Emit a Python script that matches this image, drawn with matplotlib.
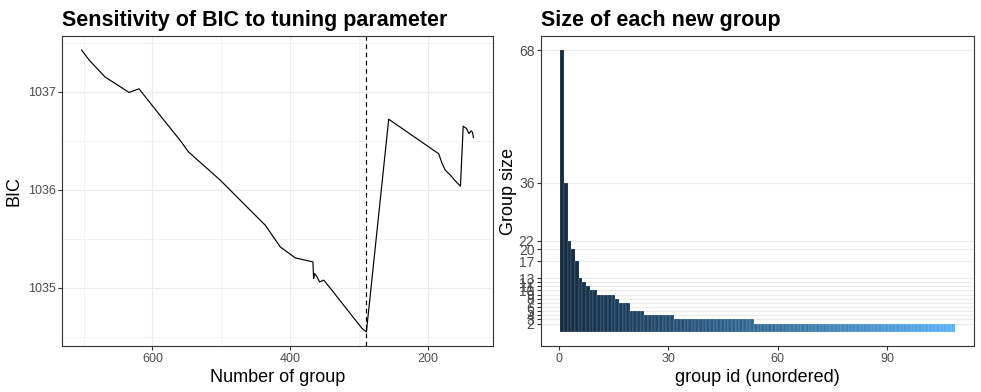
import numpy as np
import matplotlib
matplotlib.use("Agg")
import matplotlib.pyplot as plt

plt.rcParams['font.family'] = ['Liberation Sans', 'DejaVu Sans']

# ---- data: left panel (BIC vs number of groups) ----
n_groups = [702.8, 691.7, 668.9, 634.0, 619.5, 584.2, 559.9, 547.8, 501.7, 458.1,
            436.3, 414.5, 392.7, 367.1, 366.1, 364.7, 361.2, 357.4, 351.6, 349.1,
            295.8, 289.5, 257.1, 184.5, 179.7, 174.9, 167.6, 160.2, 153.0, 149.0,
            144.2, 140.8, 137.4, 135.5, 134.2]
bic = [1037.426, 1037.323, 1037.153, 1036.994, 1037.031, 1036.718, 1036.507, 1036.388,
       1036.100, 1035.793, 1035.640, 1035.418, 1035.306, 1035.265, 1035.096, 1035.147,
       1035.112, 1035.061, 1035.079, 1035.061, 1034.586, 1034.551, 1036.721, 1036.368,
       1036.270, 1036.200, 1036.150, 1036.089, 1036.038, 1036.650, 1036.626, 1036.575,
       1036.602, 1036.586, 1036.535]
best_n = 289.5
left_xticks = [600, 400, 200]
left_xminor = [700, 500, 300]
left_yticks = [1035, 1036, 1037]
left_yminor = [1034.5, 1035.5, 1036.5, 1037.5]

# ---- data: right panel (size of each new group) ----
group_sizes = ([68, 36, 22, 20, 17, 13, 12, 11, 10, 10, 9, 9, 9, 9, 9, 8, 7, 7, 7,
                5, 5, 5, 5] + [4] * 8 + [3] * 22 + [2] * 55)
group_ids = list(range(1, len(group_sizes) + 1))
right_yticks = [2, 3, 4, 5, 6, 7, 8, 9, 10, 11, 12, 13, 17, 20, 22, 36, 68]
right_xticks = [0, 30, 60, 90]

# ---- colour ramp in CIELAB (like ggplot's default gradient) ----
def hex2rgb(h):
    h = h.lstrip('#')
    return np.array([int(h[i:i + 2], 16) / 255 for i in (0, 2, 4)])

def srgb2lin(c):
    return np.where(c <= 0.04045, c / 12.92, ((c + 0.055) / 1.055) ** 2.4)

def lin2srgb(c):
    return np.where(c <= 0.0031308, 12.92 * c, 1.055 * np.clip(c, 0, None) ** (1 / 2.4) - 0.055)

M = np.array([[0.4124, 0.3576, 0.1805], [0.2126, 0.7152, 0.0722], [0.0193, 0.1192, 0.9505]])
Minv = np.linalg.inv(M)
WP = np.array([0.95047, 1.0, 1.08883])

def f(t):
    d = 6 / 29
    return np.where(t > d ** 3, np.cbrt(t), t / (3 * d * d) + 4 / 29)

def finv(t):
    d = 6 / 29
    return np.where(t > d, t ** 3, 3 * d * d * (t - 4 / 29))

def rgb2lab(c):
    xyz = M @ srgb2lin(c) / WP
    fx, fy, fz = f(xyz)
    return np.array([116 * fy - 16, 500 * (fx - fy), 200 * (fy - fz)])

def lab2rgb(lab):
    L, a, b = lab
    fy = (L + 16) / 116
    xyz = np.array([finv(fy + a / 500), finv(fy), finv(fy - b / 200)]) * WP
    return np.clip(lin2srgb(Minv @ xyz), 0, 1)

lab_lo = rgb2lab(hex2rgb('#132B43'))
lab_hi = rgb2lab(hex2rgb('#56B1F7'))
gmin, gmax = min(group_ids), max(group_ids)
bar_colors = [lab2rgb(lab_lo + (g - gmin) / (gmax - gmin) * (lab_hi - lab_lo)) for g in group_ids]

# ---- figure ----
W, H = 981, 392
fig = plt.figure(figsize=(W / 100, H / 100), dpi=100)

def px_axes(x0, x1, y0, y1):
    return fig.add_axes([x0 / W, 1 - y1 / H, (x1 - x0) / W, (y1 - y0) / H])

axL = px_axes(62, 493, 36, 346)
axR = px_axes(541, 974, 36, 346)

grid_major = '#EBEBEB'
tick_col = '#4D4D4D'
border = '#333333'

def style(ax):
    for s in ax.spines.values():
        s.set_color(border)
        s.set_linewidth(0.8)
    ax.tick_params(axis='both', which='major', direction='out', length=2.7, width=0.8,
                   color=border, labelcolor=tick_col, labelsize=9, pad=2)
    ax.tick_params(axis='both', which='minor', length=0)
    ax.set_axisbelow(True)

# left panel
axL.plot(n_groups, bic, color='black', lw=0.85)
axL.axvline(best_n, color='black', lw=0.85, ls=(0, (4, 3)))
xr = max(n_groups) - min(n_groups)
axL.set_xlim(max(n_groups) + 0.05 * xr, min(n_groups) - 0.05 * xr)
yr = max(bic) - min(bic)
axL.set_ylim(min(bic) - 0.05 * yr, max(bic) + 0.05 * yr)
axL.set_xticks(left_xticks)
axL.set_xticks(left_xminor, minor=True)
axL.set_yticks(left_yticks)
axL.set_yticks(left_yminor, minor=True)
axL.grid(True, which='major', color=grid_major, lw=0.8)
axL.grid(True, which='minor', color=grid_major, lw=0.45)
style(axL)
axL.set_xlabel('Number of group', fontsize=13, labelpad=3)
axL.set_ylabel('BIC', fontsize=13, labelpad=4)
axL.set_title('Sensitivity of BIC to tuning parameter', loc='left', fontsize=15.5,
              fontweight='bold', pad=7)

# right panel
axR.bar(group_ids, group_sizes, width=1.0, color=bar_colors,
        edgecolor=(1, 1, 1, 0.35), linewidth=0.3)
lo, hi = min(group_ids) - 0.45, max(group_ids) + 0.45
axR.set_xlim(lo - 0.05 * (hi - lo), hi + 0.05 * (hi - lo))
axR.set_ylim(-0.05 * max(group_sizes), 1.05 * max(group_sizes))
axR.set_xticks(right_xticks)
axR.set_yticks(right_yticks)
axR.grid(True, axis='y', which='major', color=grid_major, lw=0.8)
style(axR)
axR.tick_params(axis='y', labelsize=10)
axR.set_xlabel('group id (unordered)', fontsize=13, labelpad=3)
axR.set_ylabel('Group size', fontsize=13, labelpad=1)
axR.set_title('Size of each new group', loc='left', fontsize=15.5, fontweight='bold', pad=7)
axR.title.set_position((-0.065, 1.0))

fig.savefig('out.png', dpi=100)
